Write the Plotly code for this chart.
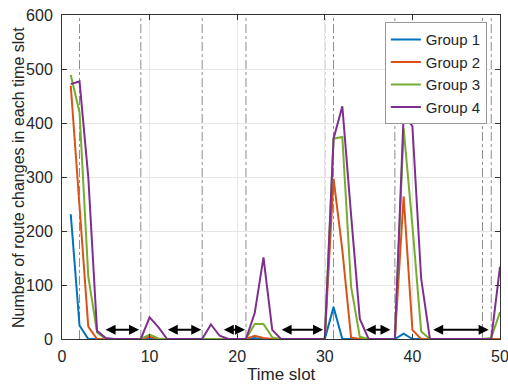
import plotly.graph_objects as go

slots = list(range(1, 51))

def series(base):
    v = [0] * 50
    for k, val in base.items():
        v[k - 1] = val
    return v

group1 = series({1: 231, 2: 25, 22: 2, 31: 59, 39: 10})
group2 = series({1: 469, 2: 248, 3: 23, 10: 4, 22: 6, 23: 2, 31: 297, 32: 165, 33: 3,
                 39: 264, 40: 17})
group3 = series({1: 489, 2: 420, 3: 116, 4: 12, 10: 8, 11: 1, 22: 28, 23: 28, 24: 3,
                 31: 371, 32: 374, 33: 97, 34: 4, 39: 390, 40: 210, 41: 14, 49: 2, 50: 50})
group4 = series({1: 472, 2: 477, 3: 300, 4: 15, 5: 2, 10: 40, 11: 22, 17: 27, 18: 6,
                 22: 48, 23: 151, 24: 17, 31: 371, 32: 431, 33: 230, 34: 37,
                 39: 416, 40: 394, 41: 112, 50: 134})

names = ["Group 1", "Group 2", "Group 3", "Group 4"]
colors = ["#0072BD", "#D95319", "#77AC30", "#7E2F8E"]

vlines = [2, 9, 16, 21, 30, 31, 38, 48, 49]
arrow_starts = [4.8, 11.9, 18.3, 24.9, 34.5, 42.2]
arrow_ends = [8.8, 15.9, 20.9, 29.8, 37.5, 48.7]
arrow_y = 17

x_title = "Time slot"
y_title = "Number of route changes in each time slot"

fig = go.Figure()
for vx in vlines:
    fig.add_shape(type="line", x0=vx, x1=vx, y0=0, y1=600, xref="x", yref="y",
                  line=dict(color="#8c8c8c", width=1, dash="dashdot"), layer="below")

for name, vals, c in zip(names, [group1, group2, group3, group4], colors):
    fig.add_trace(go.Scatter(x=slots, y=vals, mode="lines", name=name,
                             line=dict(color=c, width=2)))

for s, e in zip(arrow_starts, arrow_ends):
    fig.add_annotation(x=e, y=arrow_y, ax=s, ay=arrow_y, xref="x", yref="y",
                       axref="x", ayref="y", text="", showarrow=True,
                       arrowhead=2, arrowside="end+start", arrowsize=1,
                       arrowwidth=2, arrowcolor="black")

fig.add_annotation(text=x_title, xref="paper", yref="paper", x=0.5, y=-0.111,
                   xanchor="center", yanchor="middle", showarrow=False,
                   font=dict(size=17, color="#262626"))
fig.add_annotation(text=y_title, xref="paper", yref="paper", x=-0.1005, y=0.5,
                   xanchor="center", yanchor="middle", textangle=-90, showarrow=False,
                   font=dict(size=16, color="#262626"))

axis_common = dict(showline=True, linecolor="#333333", linewidth=1, mirror="ticks",
                   ticks="inside", ticklen=5, tickcolor="#333333", automargin=False,
                   showgrid=True, gridcolor="#e6e6e6", gridwidth=1, zeroline=False,
                   ticklabeloverflow="allow",
                   tickfont=dict(size=16, color="#262626"))

fig.update_xaxes(range=[0, 50], tickvals=[0, 10, 20, 30, 40, 50],
                 ticklabelstandoff=3, **axis_common)
fig.update_yaxes(range=[0, 600], tickvals=[0, 100, 200, 300, 400, 500, 600],
                 ticklabelstandoff=5, **axis_common)

fig.update_layout(
    width=508, height=385,
    margin=dict(l=62, r=8, t=15, b=46, autoexpand=False),
    paper_bgcolor="white", plot_bgcolor="white",
    font=dict(family="Liberation Sans, Arial, sans-serif", color="#262626"),
    legend=dict(x=0.97, y=0.978, xanchor="right", yanchor="top",
                bgcolor="white", bordercolor="#999999", borderwidth=1,
                font=dict(size=15), tracegroupgap=0, itemwidth=30),
    showlegend=True,
)

fig.write_html("out.html", config=dict(displayModeBar=False),
               post_script="document.body.style.margin='0';document.body.style.overflow='hidden';")
